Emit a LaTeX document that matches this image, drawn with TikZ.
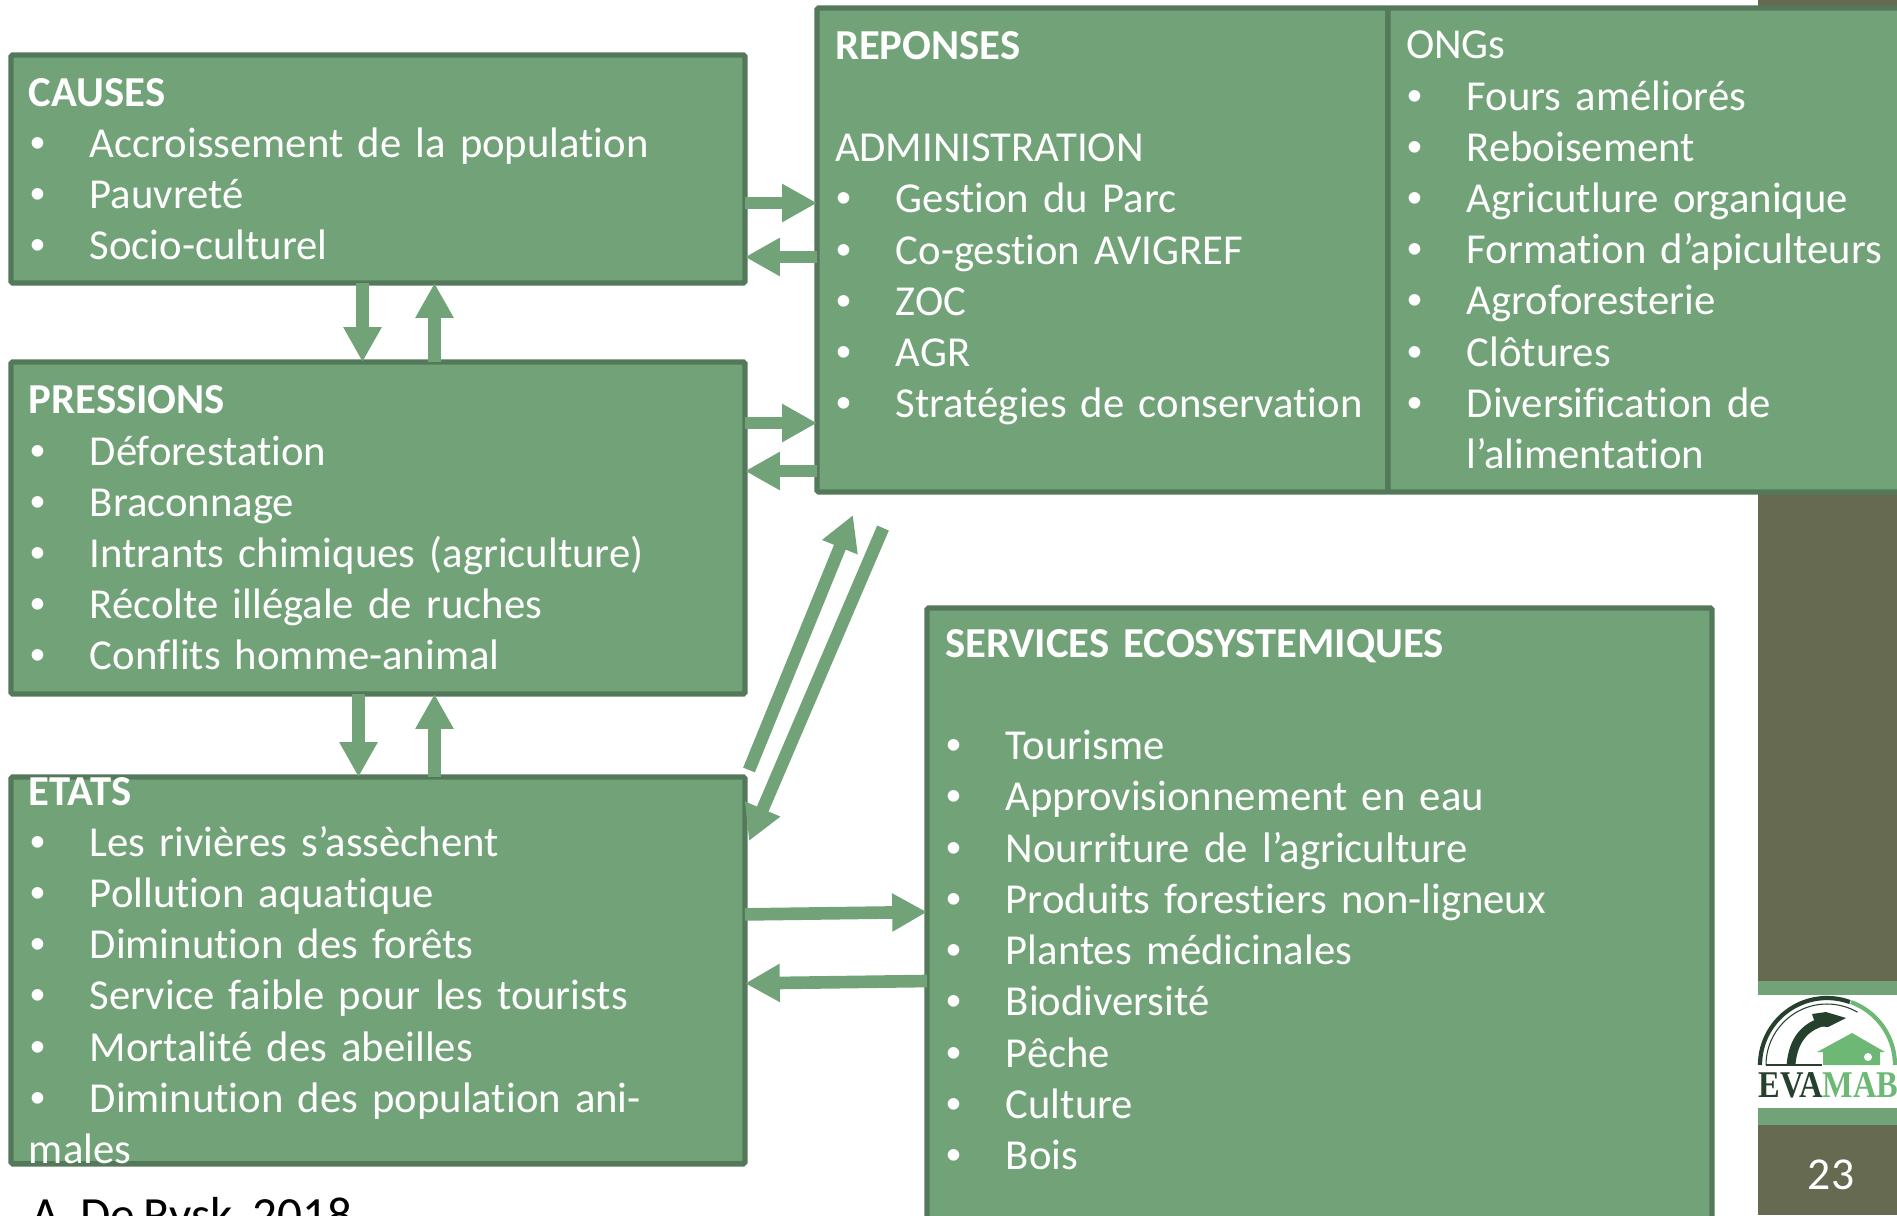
\documentclass[tikz,border=0pt]{standalone}
\usepackage{graphicx}
\usepackage{fontspec}
\setmainfont[Ligatures=NoCommon, WordSpace=0.72]{Carlito}
\newfontfamily\logofont{Liberation Serif}
\newfontfamily\bulfont{Liberation Sans}
\usetikzlibrary{calc, positioning, arrows.meta}

\definecolor{boxgreen}{HTML}{72A378}
\definecolor{boxborder}{HTML}{54785A}
\definecolor{barolive}{HTML}{666A50}
\definecolor{logodark}{HTML}{26402E}
\definecolor{logogreen}{HTML}{6DB875}

\newcommand{\bul}[1]{\makebox[34.6pt][l]{\hspace{1pt}{\bulfont\textbullet}}#1}

\tikzset{
    greenbox/.style 2 args={draw=boxborder, fill=boxgreen, line width=3.1pt, rounded corners=1pt,
        anchor=north west, inner sep=0pt, outer sep=0pt, text=white, align=left,
        font=\fontsize{24.3}{29.15}\selectfont,
        minimum width=#1*0.02cm, minimum height=#2*0.02cm, text width=(#1-36)*0.02cm},
    blockarrow/.style={draw=boxgreen, line width=7.2pt,
        -{Triangle[length=19.8pt, width=20.4pt]}},
    barpart/.style={fill=#1, draw=none}
}

\begin{document}
\begin{tikzpicture}[x=0.02cm, y=-0.02cm]
        \useasboundingbox (0,0) rectangle (1897,1215);
        \clip (0,0) rectangle (1897,1215);
        \fill[white] (0,0) rectangle (1897,1215);

        \fill[barpart=barolive] (1758,0) rectangle (1897,981);
        \fill[barpart=boxgreen] (1758,981) rectangle (1897,995);
        \fill[barpart=boxgreen] (1758,1108) rectangle (1897,1125);
        \fill[barpart=barolive] (1758,1125) rectangle (1897,1215);

        \draw[logogreen, line width=2.4pt] (1895,1065) arc (360:290:67);
        \draw[logodark, line width=2.4pt] (1760,1065) arc (180:290:67);
        \draw[logodark, line width=0.6pt] (1766,1065) arc (180:300:61);
        \draw[logodark, line width=1pt] (1766,1065) -- (1822,1065);
        \draw[logodark, line width=5pt] (1791,1065) .. controls (1793,1040) and (1805,1027) .. (1822,1022);
        \fill[logodark] (1812,1014) -- (1826,1012) -- (1846,1018) -- (1828,1027) -- (1816,1026) -- cycle;
        \fill[logogreen] (1852,1033) -- (1885,1052) -- (1880,1052) -- (1880,1065) -- (1823,1065) -- (1823,1052) -- (1817,1052) -- cycle;
        \fill[white] (1868,1057) circle (4);

        \node[anchor=base west, inner sep=0pt] (logotext) at (1758,1097)
            {\logofont\bfseries\fontsize{21.5}{24}\selectfont\scalebox{0.86}[1]{\textcolor{logodark}{EVA}\textcolor{logogreen}{MAB}}};

        \node[text=white, font=\fontsize{26}{30}\selectfont, inner sep=0pt] (pagenum) at (1831,1175) {23};

        \node[greenbox={734}{228}] (causes) at (11,55) {\textbf{CAUSES}\\
            \bul{Accroissement de la population}\\
            \bul{Pauvreté}\\
            \bul{Socio-culturel}};

        \node[greenbox={734}{332}] (pressions) at (11,362) {\textbf{PRESSIONS}\\
            \bul{Déforestation}\\
            \bul{Braconnage}\\
            \bul{Intrants chimiques (agriculture)}\\
            \bul{Récolte illégale de ruches}\\
            \bul{Conflits homme-animal}};

        \node[greenbox={734}{382}] (etats) at (11,777) {\textbf{ETATS}\\
            \bul{Les rivières s’assèchent}\\
            \bul{Pollution aquatique}\\
            \bul{Diminution des forêts}\\
            \bul{Service faible pour les tourists}\\
            \bul{Mortalité des abeilles}\\
            \bul{Diminution des population animales}};

        \node[greenbox={571}{484}] (reponses) at (817,8) {\textbf{REPONSES}\\
            \mbox{}\\
            ADMINISTRATION\\
            \bul{Gestion du Parc}\\
            \bul{Co-gestion AVIGREF}\\
            \bul{ZOC}\\
            \bul{AGR}\\
            \bul{Stratégies de conservation}\\
            \mbox{}};

        \node[greenbox={542}{484}] (ongs) at (reponses.north east) {ONGs\\
            \bul{Fours améliorés}\\
            \bul{Reboisement}\\
            \bul{Agricutlure organique}\\
            \bul{Formation d’apiculteurs}\\
            \bul{Agroforesterie}\\
            \bul{Clôtures}\\
            \bul{Diversification de}\\
            \hspace{34.6pt}l’alimentation};

        \node[greenbox={785}{634}] (services) at (927,608) {\textbf{SERVICES ECOSYSTEMIQUES}\\
            \mbox{}\\
            \bul{Tourisme}\\
            \bul{Approvisionnement en eau}\\
            \bul{Nourriture de l’agriculture}\\
            \bul{Produits forestiers non-ligneux}\\
            \bul{Plantes médicinales}\\
            \bul{Biodiversité}\\
            \bul{Pêche}\\
            \bul{Culture}\\
            \bul{Bois}\\
            \mbox{}};

        \node[anchor=base west, inner sep=0pt, font=\fontsize{28}{32}\selectfont] (source) at (31,1231) {A. De Rysk, 2018};

        \draw[blockarrow] ($(causes.south)+(-15.5,0)$) -- ($(pressions.north)+(-15.5,0)$);
        \draw[blockarrow] ($(pressions.north)+(56.5,0)$) -- ($(causes.south)+(56.5,0)$);
        \draw[blockarrow] ($(pressions.south)+(-19.5,0)$) -- ($(etats.north)+(-19.5,0)$);
        \draw[blockarrow] ($(etats.north)+(56.5,0)$) -- ($(pressions.south)+(56.5,0)$);

        \draw[blockarrow] ($(causes.east)+(0,34)$) -- ($(reponses.west)+(0,-47)$);
        \draw[blockarrow] ($(reponses.west)+(0,7)$) -- ($(causes.east)+(0,88)$);
        \draw[blockarrow] ($(pressions.east)+(0,-105)$) -- ($(reponses.west)+(0,173)$);
        \draw[blockarrow] ($(reponses.west)+(0,221)$) -- ($(pressions.east)+(0,-57)$);

        \draw[blockarrow] ($(etats.north east)+(4,-7)$) -- ($(reponses.south west)+(36,23)$);
        \draw[blockarrow] ($(reponses.south west)+(66,36)$) -- ($(etats.north east)+(4,64)$);

        \draw[blockarrow] ($(etats.east)+(0,-56)$) -- ($(services.west)+(0,-13)$);
        \draw[blockarrow] ($(services.west)+(0,56)$) -- ($(etats.east)+(0,13)$);
\end{tikzpicture}
\end{document}
